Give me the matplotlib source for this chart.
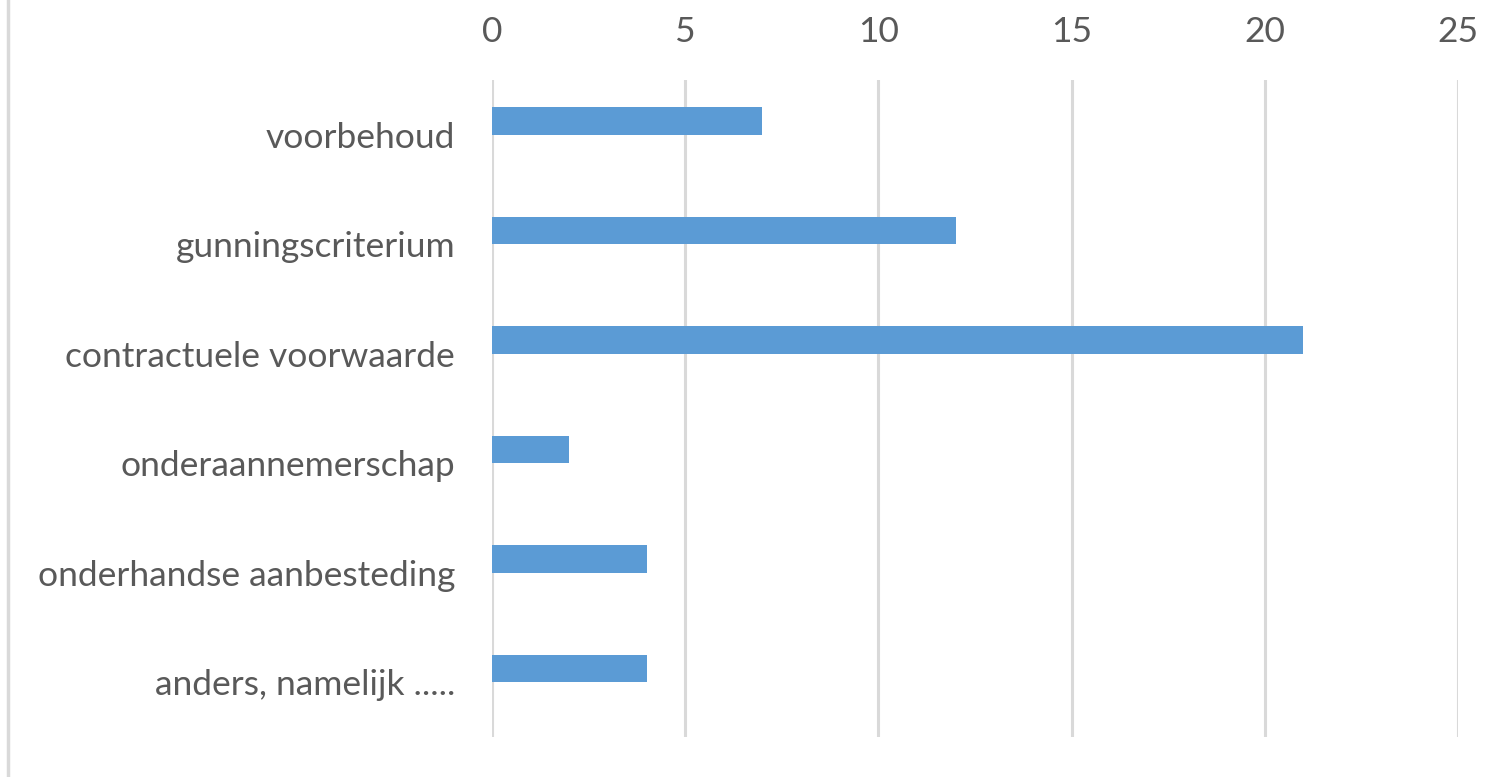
import matplotlib
matplotlib.use("Agg")
import matplotlib.pyplot as plt
from matplotlib.lines import Line2D

categories = ["voorbehoud", "gunningscriterium", "contractuele voorwaarde",
              "onderaannemerschap", "onderhandse aanbesteding", "anders, namelijk ....."]
values = [7, 12, 21, 2, 4, 4]
xticks = [0, 5, 10, 15, 20, 25]

plt.rcParams['font.family'] = ['Lato', 'DejaVu Sans']

fig = plt.figure(figsize=(15.01, 7.77), dpi=100)
ax = fig.add_axes([492 / 1501, 1 - 737 / 777, (1458 - 492) / 1501, (737 - 80) / 777])

pos = list(range(len(categories)))
# bar sits in the upper half of its category slot (as in the excel original)
ax.barh([p - 0.125 for p in pos], values, height=0.25, color="#5b9bd5", zorder=3)
ax.set_ylim(len(categories) - 0.5, -0.5)
ax.set_xlim(0, 25)
ax.set_yticks(pos)
ax.set_yticklabels(categories)
ax.set_xticks(xticks)
ax.xaxis.tick_top()
ax.tick_params(axis="both", length=0, labelsize=25.5, labelcolor="#595959")
ax.tick_params(axis="x", pad=23)
ax.tick_params(axis="y", pad=26.5)
ax.grid(axis="x", color="#d9d9d9", linewidth=2.2, zorder=0)
for s in ax.spines.values():
    s.set_visible(False)

# outer frame line on the left
fig.add_artist(Line2D([8 / 1501, 8 / 1501], [0, 1], color="#d9d9d9", linewidth=2.5))

fig.savefig("out.png", dpi=100)
